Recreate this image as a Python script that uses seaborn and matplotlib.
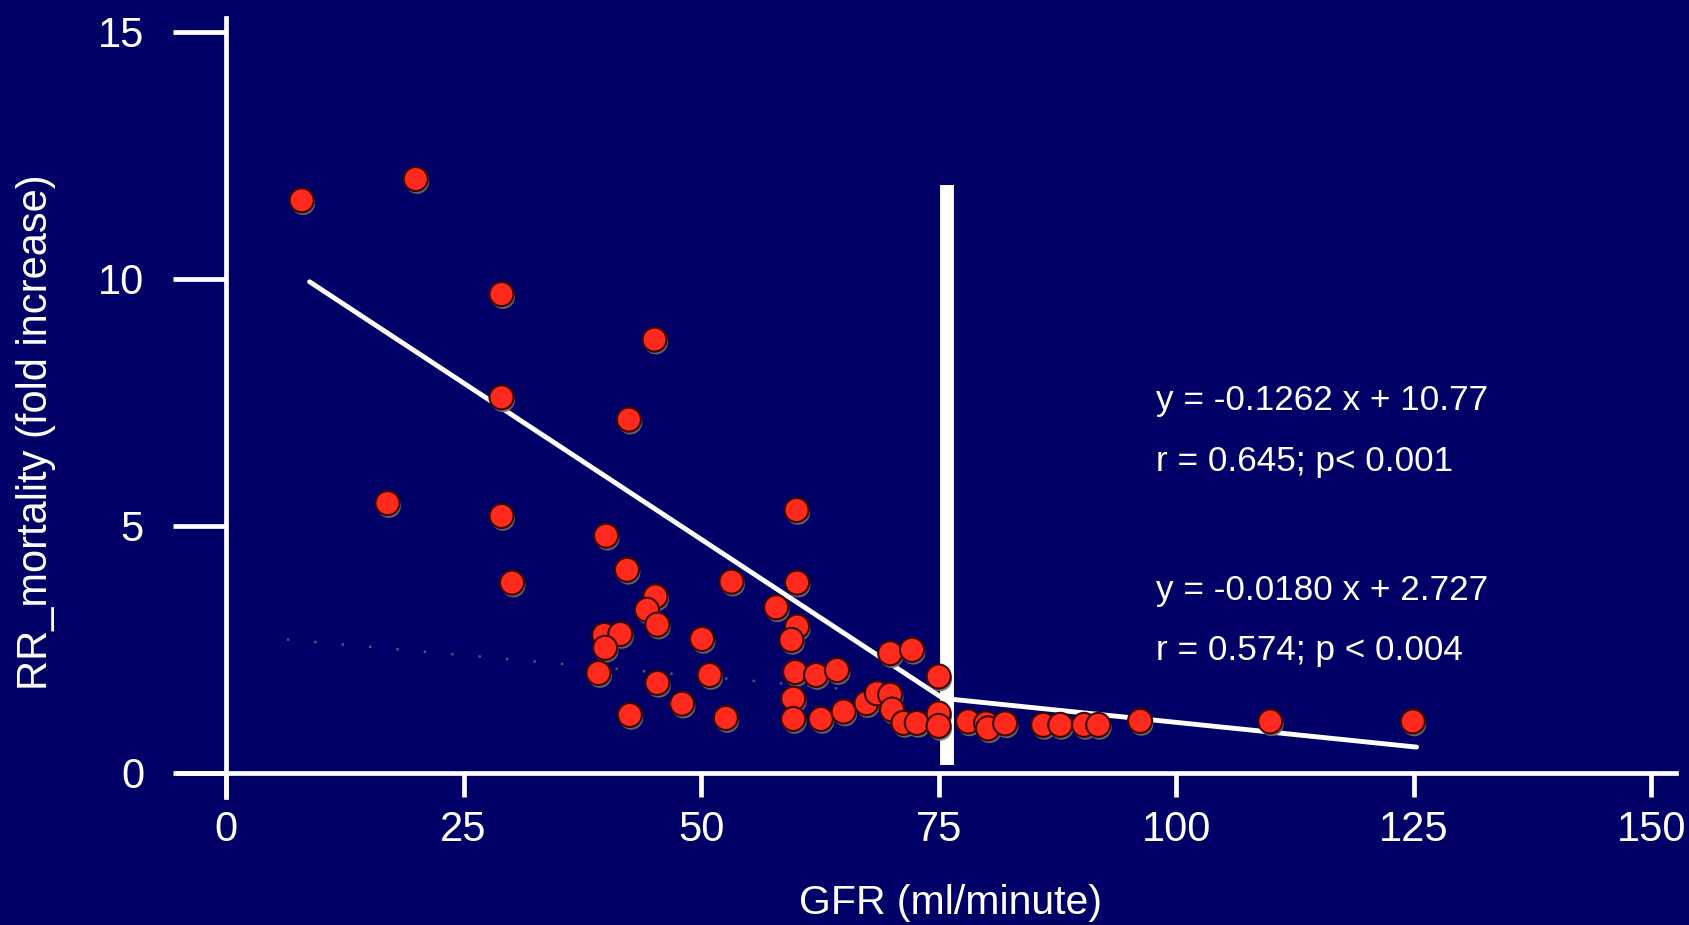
import numpy as np
import pandas as pd
import matplotlib
matplotlib.use("Agg")
import matplotlib.pyplot as plt
import matplotlib.patheffects as pe
import seaborn as sns

# ---- data ----
gfr = [7.97, 19.97, 29.0, 45.1, 29.0, 42.4, 17.0, 29.0, 40.0, 42.2,
       60.05, 30.1, 53.2, 60.1, 57.9, 45.2, 44.3, 45.4, 39.8, 41.5,
       39.9, 39.2, 45.4, 50.1, 50.9, 48.0, 42.5, 52.6, 60.1, 59.5,
       59.9, 62.1, 64.3, 59.7, 59.7, 62.6, 65.0, 67.4, 68.5, 69.9,
       70.1, 71.3, 72.7, 69.9, 72.2, 75.0, 75.0, 75.0, 78.1, 80.0,
       80.2, 82.0, 86.0, 87.8, 90.3, 91.8, 96.2, 109.9, 124.9]
rr = [11.59, 12.02, 9.69, 8.77, 7.60, 7.15, 5.46, 5.20, 4.80, 4.11,
      5.32, 3.85, 3.87, 3.85, 3.35, 3.57, 3.30, 3.00, 2.79, 2.81,
      2.53, 2.02, 1.82, 2.71, 1.98, 1.40, 1.17, 1.11, 2.96, 2.69,
      2.04, 1.98, 2.08, 1.50, 1.09, 1.09, 1.24, 1.41, 1.61, 1.58,
      1.28, 1.01, 1.01, 2.42, 2.49, 1.95, 1.20, 0.95, 1.04, 1.00,
      0.90, 1.00, 0.97, 0.97, 0.97, 0.97, 1.05, 1.04, 1.04]

fit1_x = [8.8, 75.2]
fit1_y = [9.94, 1.54]
fit2_x = [75.8, 125.3]
fit2_y = [1.50, 0.52]
faint_x = [6.4, 66.0]
faint_y = [2.70, 1.68]
cut_x = [75.9, 75.9]
cut_y = [0.16, 11.89]

x_ticks = [0, 25, 50, 75, 100, 125, 150]
y_ticks = [0, 5, 10, 15]
ann_text = ["y = -0.1262 x + 10.77", "r = 0.645; p< 0.001",
            "y = -0.0180 x + 2.727", "r = 0.574; p < 0.004"]
ann_x = [97.9, 97.9, 97.9, 97.9]
ann_y = [7.35, 6.10, 3.50, 2.29]
x_label = "GFR (ml/minute)"
y_label = "RR_mortality (fold increase)"

BG = "#000066"
RED = "#ff2a1e"

sns.set_style("ticks")
plt.rcParams['font.family'] = ['Liberation Sans', 'DejaVu Sans']

W, H = 1690, 925
fig = plt.figure(figsize=(W / 100, H / 100), dpi=100, facecolor=BG)
l, r, b, t = 178, 1676, 797, 18
ax = fig.add_axes([l / W, (H - b) / H, (r - l) / W, (b - t) / H])
ax.set_facecolor(BG)

# cut-off bar
sns.lineplot(x=cut_x, y=cut_y, ax=ax, color="white", linewidth=10,
             solid_capstyle="butt", sort=False, estimator=None, zorder=2)
# regression lines
sns.lineplot(x=fit1_x, y=fit1_y, ax=ax, color="white", linewidth=3.5,
             sort=False, estimator=None, zorder=3)
sns.lineplot(x=fit2_x, y=fit2_y, ax=ax, color="white", linewidth=3.5,
             sort=False, estimator=None, zorder=3)
sns.lineplot(x=faint_x, y=faint_y, ax=ax, color="#55556a", linewidth=1.8,
             linestyle=(0, (1, 10)), sort=False, estimator=None, zorder=3)

# points
sns.scatterplot(x=gfr, y=rr, ax=ax, s=300, color=RED, edgecolor="#3a0505",
                linewidth=1.5, zorder=5,
                path_effects=[pe.SimplePatchShadow(offset=(1, -2), shadow_rgbFace="#6e6e6e", alpha=0.9),
                              pe.Normal()])

ax.set_xlim(-5.05, 152.6)
ax.set_ylim(-0.49, 15.28)
ax.set_xticks(x_ticks)
ax.set_yticks(y_ticks)
ax.set_xticklabels([str(v) for v in x_ticks])
ax.set_yticklabels([str(v) for v in y_ticks])

for side in ["top", "right"]:
    ax.spines[side].set_visible(False)
for side in ["left", "bottom"]:
    ax.spines[side].set_position(("data", 0))
    ax.spines[side].set_color("white")
    ax.spines[side].set_linewidth(3.4)

ax.tick_params(axis="x", direction="out", length=17, width=3.4, colors="white",
               labelsize=30, pad=10)
ax.tick_params(axis="y", direction="out", length=38, width=3.4, colors="white",
               labelsize=30, pad=21)
ax.set_xlabel("")
ax.set_ylabel("")

for tx, xx, yy in zip(ann_text, ann_x, ann_y):
    ax.text(xx, yy, tx, color="white", fontsize=25.3, ha="left", va="baseline", zorder=6)

ax.text(0.516, -0.150, x_label, transform=ax.transAxes, color="white",
        fontsize=29.5, ha="center", va="baseline")
ax.text(-0.0875, 0.468, y_label, transform=ax.transAxes, color="white",
        fontsize=30, ha="center", va="baseline", rotation=90,
        rotation_mode="anchor")

fig.savefig("out.png", dpi=100, facecolor=BG)
